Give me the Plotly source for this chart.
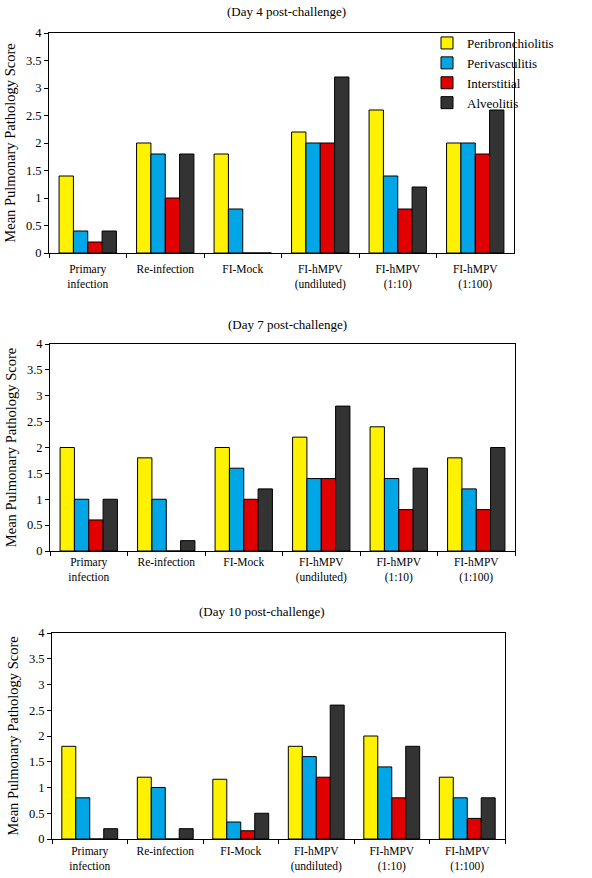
import plotly.graph_objects as go

categories = ["Primary<br>infection", "Re-infection", "FI-Mock",
              "FI-hMPV<br>(undiluted)", "FI-hMPV<br>(1:10)", "FI-hMPV<br>(1:100)"]
series_names = ["Peribronchiolitis", "Perivasculitis", "Interstitial", "Alveolitis"]
panel_titles = ["(Day 4 post-challenge)", "(Day 7 post-challenge)", "(Day 10 post-challenge)"]

day4_peribronchiolitis = [1.4, 2.0, 1.8, 2.2, 2.6, 2.0]
day4_perivasculitis = [0.4, 1.8, 0.8, 2.0, 1.4, 2.0]
day4_interstitial = [0.2, 1.0, 0.0, 2.0, 0.8, 1.8]
day4_alveolitis = [0.4, 1.8, 0.0, 3.2, 1.2, 2.6]

day7_peribronchiolitis = [2.0, 1.8, 2.0, 2.2, 2.4, 1.8]
day7_perivasculitis = [1.0, 1.0, 1.6, 1.4, 1.4, 1.2]
day7_interstitial = [0.6, 0.0, 1.0, 1.4, 0.8, 0.8]
day7_alveolitis = [1.0, 0.2, 1.2, 2.8, 1.6, 2.0]

day10_peribronchiolitis = [1.8, 1.2, 1.16, 1.8, 2.0, 1.2]
day10_perivasculitis = [0.8, 1.0, 0.33, 1.6, 1.4, 0.8]
day10_interstitial = [0.0, 0.0, 0.16, 1.2, 0.8, 0.4]
day10_alveolitis = [0.2, 0.2, 0.5, 2.6, 1.8, 0.8]

y_ticks = [0, 0.5, 1, 1.5, 2, 2.5, 3, 3.5, 4]
y_tick_labels = ["0", "0.5", "1", "1.5", "2", "2.5", "3", "3.5", "4"]

panels = [
    [day4_peribronchiolitis, day4_perivasculitis, day4_interstitial, day4_alveolitis],
    [day7_peribronchiolitis, day7_perivasculitis, day7_interstitial, day7_alveolitis],
    [day10_peribronchiolitis, day10_perivasculitis, day10_interstitial, day10_alveolitis],
]
colors = ["#FFF200", "#00A6E6", "#E00000", "#333333"]

W, H = 592, 878
# plot-area pixel boxes: (left, right, top, bottom)
boxes = [(49, 514, 33, 253), (50, 515, 344, 551), (52, 505, 633, 839)]
title_pos = [(286, 12), (287, 324), (262, 611)]
xlabel_standoff = [5, 0, 1]

FONT = "Times New Roman"
fig = go.Figure()
layout = dict(
    template="none",
    width=W, height=H, margin=dict(l=0, r=0, t=0, b=0, autoexpand=False),
    paper_bgcolor="white", plot_bgcolor="white",
    barmode="group", bargap=0.26, bargroupgap=0,
    font=dict(family=FONT, size=12, color="black"),
    showlegend=True,
    legend=dict(x=427 / W, y=1 - 28 / H, xanchor="left", yanchor="top",
                font=dict(family=FONT, size=13), bgcolor="rgba(0,0,0,0)",
                tracegroupgap=0, itemwidth=30),
)
annotations = []
for i, data in enumerate(panels):
    xa = "x" if i == 0 else f"x{i+1}"
    ya = "y" if i == 0 else f"y{i+1}"
    for j, name in enumerate(series_names):
        fig.add_trace(go.Bar(
            x=categories, y=data[j], name=name, xaxis=xa, yaxis=ya,
            marker=dict(color=colors[j], line=dict(color="black", width=1)),
            showlegend=(i == 0), legendgroup=name,
        ))
    l, r, t, b = boxes[i]
    xkey = "xaxis" if i == 0 else f"xaxis{i+1}"
    ykey = "yaxis" if i == 0 else f"yaxis{i+1}"
    layout[xkey] = dict(
        domain=[l / W, r / W], anchor=ya, type="category", automargin=False,
        showline=True, linecolor="black", linewidth=1, mirror=True,
        ticks="outside", ticklen=4, tickcolor="black", tickson="boundaries",
        ticklabelstandoff=xlabel_standoff[i],
        showgrid=False, zeroline=False, tickfont=dict(family=FONT, size=11.5),
    )
    layout[ykey] = dict(
        domain=[1 - b / H, 1 - t / H], anchor=xa, range=[0, 4], automargin=False,
        tickvals=y_ticks, ticktext=y_tick_labels,
        showline=True, linecolor="black", linewidth=1, mirror=True,
        ticks="outside", ticklen=4, tickcolor="black",
        showgrid=False, zeroline=False, tickfont=dict(family=FONT, size=12.5),
        title=dict(text="Mean Pulmonary Pathology Score",
                   font=dict(family=FONT, size=14.5), standoff=6),
    )
    tx, ty = title_pos[i]
    annotations.append(dict(
        text=panel_titles[i], x=tx / W, y=1 - ty / H, xref="paper", yref="paper",
        showarrow=False, xanchor="center", yanchor="middle",
        font=dict(family=FONT, size=13),
    ))
layout["annotations"] = annotations
fig.update_layout(**layout)
fig.write_html("out.html", config={"displayModeBar": False},
               post_script="document.body.style.margin='0';document.body.style.overflow='hidden';")
